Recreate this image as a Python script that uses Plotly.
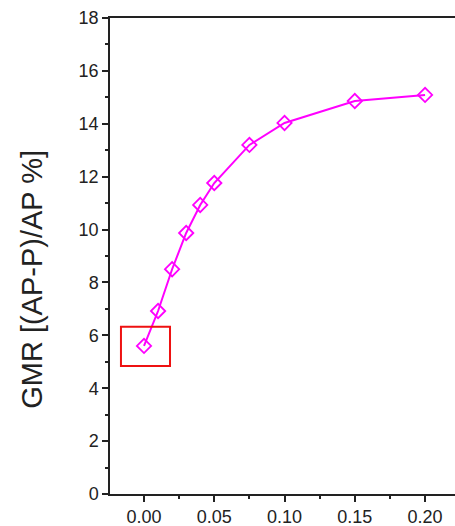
import plotly.graph_objects as go

x_vals = [0.0, 0.01, 0.02, 0.03, 0.04, 0.05, 0.075, 0.10, 0.15, 0.20]
gmr = [5.6, 6.92, 8.5, 9.87, 10.93, 11.76, 13.2, 14.03, 14.86, 15.09]
y_title = "GMR [(AP-P)/AP %]"
x_tickvals = [0.0, 0.05, 0.10, 0.15, 0.20]
x_ticktext = ["0.00", "0.05", "0.10", "0.15", "0.20"]
y_tickvals = [0, 2, 4, 6, 8, 10, 12, 14, 16, 18]
highlight_box = dict(x0=-0.0164, x1=0.0185, y0=4.84, y1=6.32)

fig = go.Figure()
fig.add_trace(go.Scatter(
    x=x_vals, y=gmr, mode="lines+markers",
    line=dict(color="#ff00ff", width=2),
    marker=dict(symbol="diamond-open", size=11, color="#ff00ff", line=dict(width=1.8)),
    showlegend=False,
))
fig.add_shape(type="rect", xref="x", yref="y", **highlight_box,
              line=dict(color="#ee1111", width=2))

fig.add_annotation(text=y_title, xref="paper", yref="paper", x=-0.226, y=0.45,
                   xanchor="center", yanchor="middle", textangle=-90, showarrow=False,
                   font=dict(size=29, family="Liberation Sans, Arial, sans-serif", color="#222"))

font = dict(family="Liberation Sans, Arial, sans-serif", size=18, color="#222")
fig.update_layout(
    width=455, height=526,
    margin=dict(l=110, r=0, t=18, b=32),
    plot_bgcolor="white", paper_bgcolor="white",
    font=font,
    xaxis=dict(range=[-0.0242, 0.2213], tickvals=x_tickvals, ticktext=x_ticktext,
               showgrid=False, zeroline=False, showline=True, linecolor="#222", linewidth=1.5,
               mirror=True, ticks="outside", ticklen=6, tickwidth=1.5, tickcolor="#222",
               minor=dict(dtick=0.025, tick0=0, ticks="outside", ticklen=3, tickwidth=1.5, tickcolor="#222"),
               tickfont=dict(size=18)),
    yaxis=dict(range=[0, 18], tickvals=y_tickvals,
               showgrid=False, zeroline=False, showline=True, linecolor="#222", linewidth=1.5,
               ticks="outside", ticklen=6, tickwidth=1.5, tickcolor="#222",
               minor=dict(dtick=1, tick0=0, ticks="outside", ticklen=3, tickwidth=1.5, tickcolor="#222"),
               tickfont=dict(size=18)),
)
fig.write_html("out.html")
